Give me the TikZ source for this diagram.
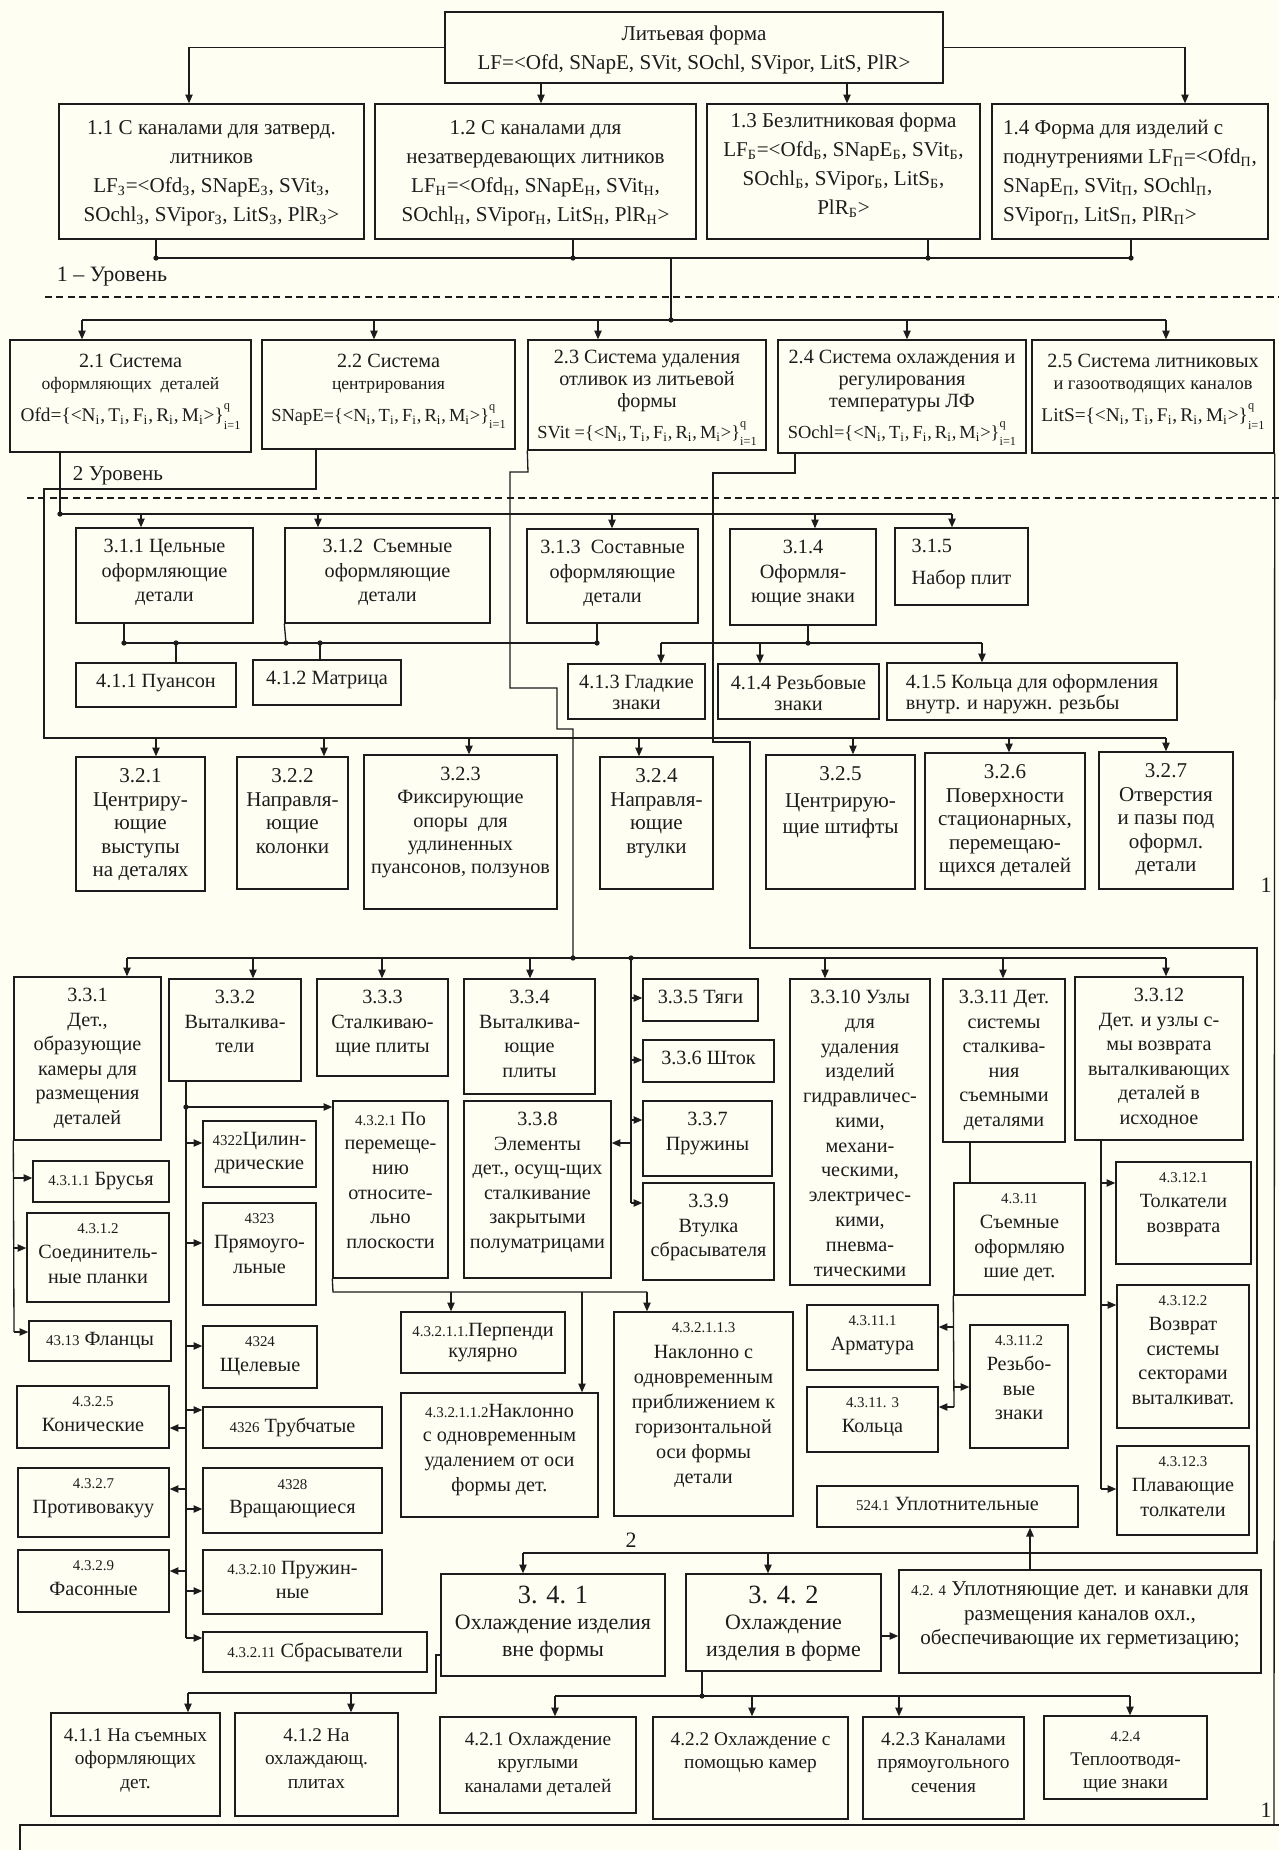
\documentclass[tikz,border=0pt]{standalone}
\usepackage{fontspec}
\setmainfont{Liberation Serif}
\usetikzlibrary{arrows.meta}
\definecolor{ink}{RGB}{28,28,28}
\definecolor{paper}{RGB}{254,254,243}
\newcommand\lsub[1]{\textsubscript{#1}}
\newcommand\qi{\rlap{\raisebox{0.6em}{\fontsize{7}{7}\selectfont q}}\raisebox{-0.4em}{\fontsize{7}{7}\selectfont i=1}}
\newcommand\nsm{\fontsize{8.5}{10}\selectfont}
\newcommand\fsm{\fontsize{11}{11}\selectfont}
\newcommand\fsn{\fontsize{10.5}{11}\selectfont}
% box from (x1,y1) to (x2,y2) in pixel units, text hung from the top edge
\newcommand\bx[7][]{%
  \pgfmathsetmacro\bxw{(#5-#3)*0.02}%
  \pgfmathsetmacro\bxh{(#6-#4)*0.02}%
  \node[box,minimum width=\bxw cm,minimum height=\bxh cm](#2)at({(#3+#5)/2},{(#4+#6)/2}){};
  \node[txt,#1](#2t)at(#2.north){#7};}

\begin{document}
\begin{tikzpicture}[x=0.02cm,y=-0.02cm,
box/.style={draw=ink,line width=.8pt,fill=paper,inner sep=0pt},
txt/.style={anchor=north,align=center,inner xsep=1pt,inner ysep=6.5pt,text=ink,font=\fontsize{11.5}{14}\selectfont},
t1/.style={inner ysep=9.5pt,font=\fontsize{12}{16.5}\selectfont},
t2/.style={inner ysep=8pt,font=\fontsize{11.5}{12.5}\selectfont},
tb/.style={inner ysep=9pt,font=\fontsize{11}{13.5}\selectfont},
t3/.style={inner ysep=7pt,font=\fontsize{12.5}{15}\selectfont},
tight/.style={font=\fontsize{11.5}{12}\selectfont},
wire/.style={draw=ink,line width=.75pt},
arr/.style={wire,-{Triangle[length=5pt,width=4.2pt]}},
dline/.style={draw=ink,line width=1.1pt,dash pattern=on 4pt off 2.5pt},
lvl/.style={text=ink,inner sep=0pt,font=\fontsize{12.5}{14}\selectfont}]

\fill[paper](0,0)rectangle(1279,1850);
\useasboundingbox(0,0)rectangle(1279,1850);

% level 0 and 1
\bx[t1,inner ysep=8pt]{lf}{445}{12}{943}{83}{Литьевая форма\\LF=<Ofd, SNapE, SVit, SOchl, SVipor, LitS, PlR>}
\bx[t1]{l11}{59}{104}{364}{239}{1.1 С каналами для затверд.\\литников\\LF\lsub{З}=<Ofd\lsub{З}, SNapE\lsub{З}, SVit\lsub{З},\\SOchl\lsub{З}, SVipor\lsub{З}, LitS\lsub{З}, PlR\lsub{З}>}
\bx[t1]{l12}{375}{104}{696}{239}{1.2 С каналами для\\незатвердевающих литников\\LF\lsub{Н}=<Ofd\lsub{Н}, SNapE\lsub{Н}, SVit\lsub{Н},\\SOchl\lsub{Н}, SVipor\lsub{Н}, LitS\lsub{Н}, PlR\lsub{Н}>}
\bx[t1,inner ysep=5pt]{l13}{707}{104}{980}{239}{1.3 Безлитниковая форма\\LF\lsub{Б}=<Ofd\lsub{Б}, SNapE\lsub{Б}, SVit\lsub{Б},\\SOchl\lsub{Б}, SVipor\lsub{Б}, LitS\lsub{Б},\\PlR\lsub{Б}>}
\bx[t1,align=left]{l14}{992}{104}{1268}{239}{1.4 Форма для изделий с\\поднутрениями LF\lsub{П}=<Ofd\lsub{П},\\SNapE\lsub{П}, SVit\lsub{П}, SOchl\lsub{П},\\SVipor\lsub{П}, LitS\lsub{П}, PlR\lsub{П}>}

\draw[arr](lf.west)-|(189,0|-l11.north);
\draw[arr](lf.east)-|(1185,0|-l14.north);
\draw[arr](541,0|-lf.south)--(541,0|-l12.north);
\draw[arr](847,0|-lf.south)--(847,0|-l13.north);

\coordinate(bus1)at(0,258);
\draw[wire](156,0|-l11.south)--(156,0|-bus1)--(1131,0|-bus1)--(1131,0|-l14.south);
\draw[wire](573,0|-l12.south)--(573,0|-bus1);
\draw[wire](928,0|-l13.south)--(928,0|-bus1);
\foreach \x in {156,573,928,1131}\fill[ink](\x,0|-bus1)circle(1.5pt);

\node[lvl](lev1)at(112,277){1 – Уровень};
\draw[dline](45,297)--(1279,297);

% level 2
\coordinate(bus2)at(0,320);
\draw[wire](671,0|-bus1)--(671,0|-bus2);
\fill[ink](671,0|-bus2)circle(1.5pt);
\draw[wire](82,0|-bus2)--(1166,0|-bus2);

\bx[t2]{l21}{10}{340}{251}{452}{2.1 Система\\{\fontsize{10}{10}\selectfont оформляющих\ \ деталей}\\[6pt]{\fsm Ofd=\{<N\lsub{i},\,T\lsub{i},\,F\lsub{i},\,R\lsub{i},\,M\lsub{i}>\}\qi}}
\bx[t2]{l22}{262}{340}{515}{449}{2.2 Система\\{\fontsize{10}{10}\selectfont центрирования}\\[6pt]{\fsn SNapE=\{<N\lsub{i},\,T\lsub{i},\,F\lsub{i},\,R\lsub{i},\,M\lsub{i}>\}\qi}}
\bx[t2,inner ysep=6pt]{l23}{528}{340}{766}{450}{2.3 Система удаления\\отливок из литьевой\\формы\\[5pt]{\fsn SVit =\{<N\lsub{i},\,T\lsub{i},\,F\lsub{i},\,R\lsub{i},\,M\lsub{i}>\}\qi}}
\bx[t2,inner ysep=6pt]{l24}{778}{340}{1026}{453}{2.4 Система охлаждения и\\регулирования\\температуры ЛФ\\[5pt]{\fsn SOchl=\{<N\lsub{i},\,T\lsub{i},\,F\lsub{i},\,R\lsub{i},\,M\lsub{i}>\}\qi}}
\bx[t2]{l25}{1032}{340}{1274}{453}{2.5 Система литниковых\\{\fontsize{10.5}{10}\selectfont и газоотводящих каналов}\\[6pt]{\fsm LitS=\{<N\lsub{i},\,T\lsub{i},\,F\lsub{i},\,R\lsub{i},\,M\lsub{i}>\}\qi}}

\foreach \x/\n in {82/l21,374/l22,598/l23,907/l24,1166/l25}\draw[arr](\x,0|-bus2)--(\x,0|-\n.north);

\node[lvl,font=\fontsize{12}{14}\selectfont](lev2)at(118,476){2 Уровень};
\draw[dline](27,498)--(1279,498);

% level 3.1 and 4.1
\bx{b311}{76}{528}{253}{623}{3.1.1 Цельные\\оформляющие\\детали}
\bx{b312}{285}{528}{490}{623}{3.1.2\ \ Съемные\\оформляющие\\детали}
\bx{b313}{527}{529}{698}{623}{3.1.3\ \ Составные\\оформляющие\\детали}
\bx{b314}{730}{529}{876}{625}{3.1.4\\Оформля-\\ющие знаки}
\bx[align=left]{b315}{895}{528}{1028}{605}{3.1.5\\[4pt]Набор плит}
\bx{b411}{76}{663}{236}{707}{4.1.1 Пуансон}
\bx{b412}{253}{660}{401}{705}{4.1.2 Матрица}
\bx[tight]{b413}{568}{664}{705}{719}{4.1.3 Гладкие\\знаки}
\bx[tight]{b414}{718}{664}{879}{719}{4.1.4 Резьбовые\\знаки}
\bx[tight,align=left]{b415}{887}{663}{1177}{720}{4.1.5 Кольца для оформления\\внутр. и наружн. резьбы}

\coordinate(bus31)at(0,514);
\draw[wire](60,0|-l21.south)--(60,0|-bus31)--(952,0|-bus31);
\fill[ink](60,0|-bus31)circle(1.5pt);
\foreach \x/\n in {141/b311,318/b312,612/b313,815/b314,952/b315}\draw[arr](\x,0|-bus31)--(\x,0|-\n.north);

\coordinate(bus41)at(0,643);
\draw[wire](124,0|-b311.south)--(124,0|-bus41)--(597,0|-bus41)--(597,0|-b313.south);
\draw[wire](b312.south west)--(286,0|-bus41);
\draw[wire](176,0|-bus41)--(176,0|-b411.north);
\draw[wire](320,0|-bus41)--(320,0|-b412.north);
\draw[wire](808,0|-b314.south)--(808,0|-bus41);
\draw[wire](661,0|-bus41)--(982,0|-bus41);
\foreach \x in {124,176,286,320,597,808}\fill[ink](\x,0|-bus41)circle(1.5pt);
\foreach \x/\n in {661/b413,760/b414,982/b415}\draw[arr](\x,0|-bus41)--(\x,0|-\n.north);

% level 3.2
\bx[inner ysep=7pt,font=\fontsize{12}{13.3}\selectfont]{b321}{76}{757}{205}{891}{3.2.1\\Центриру-\\ющие\\выступы\\на деталях}
\bx[inner ysep=7pt,font=\fontsize{12}{13.3}\selectfont]{b322}{237}{757}{348}{889}{3.2.2\\Направля-\\ющие\\колонки}
\bx[inner ysep=7pt,font=\fontsize{11.5}{13.3}\selectfont]{b323}{364}{755}{557}{909}{3.2.3\\Фиксирующие\\опоры\ \ для\\удлиненных\\пуансонов, ползунов}
\bx[inner ysep=7pt,font=\fontsize{12}{13.3}\selectfont]{b324}{600}{757}{713}{889}{3.2.4\\Направля-\\ющие\\втулки}
\bx[inner ysep=7pt,font=\fontsize{12}{15}\selectfont]{b325}{766}{755}{915}{889}{3.2.5\\Центрирую-\\щие штифты}
\bx[inner ysep=7pt,font=\fontsize{12}{13.3}\selectfont]{b326}{925}{753}{1085}{889}{3.2.6\\Поверхности\\стационарных,\\перемещаю-\\щихся деталей}
\bx[inner ysep=7pt,font=\fontsize{12}{13.3}\selectfont]{b327}{1099}{752}{1233}{889}{3.2.7\\Отверстия\\и пазы под\\оформл.\\детали}

\coordinate(bus32)at(0,738);
\draw[wire](316,0|-l22.south)--(316,489)--(44,489)--(44,0|-bus32)--(1166,0|-bus32);
\foreach \x/\n in {156/b321,324/b322,469/b323,639/b324,853/b325,1009/b326,1166/b327}\draw[arr](\x,0|-bus32)--(\x,0|-\n.north);

% level 3.3
\bx{b331}{14}{977}{161}{1140}{3.3.1\\Дет.,\\образующие\\камеры для\\размещения\\деталей}
\bx{b332}{169}{979}{301}{1081}{3.3.2\\Выталкива-\\тели}
\bx{b333}{317}{979}{448}{1076}{3.3.3\\Сталкиваю-\\щие плиты}
\bx{b334}{464}{979}{595}{1094}{3.3.4\\Выталкива-\\ющие\\плиты}
\bx{b335}{643}{979}{758}{1021}{3.3.5 Тяги}
\bx{b336}{643}{1040}{774}{1082}{3.3.6 Шток}
\bx{b337}{643}{1101}{772}{1176}{3.3.7\\Пружины}
\bx{b338}{464}{1101}{611}{1278}{3.3.8\\Элементы\\дет., осущ-щих\\сталкивание\\закрытыми\\полуматрицами}
\bx{b339}{643}{1183}{774}{1280}{3.3.9\\Втулка\\сбрасывателя}
\bx[font=\fontsize{11.5}{14.1}\selectfont]{b3310}{790}{979}{930}{1285}{3.3.10 Узлы\\для\\удаления\\изделий\\гидравличес-\\кими,\\механи-\\ческими,\\электричес-\\кими,\\пневма-\\тическими}
\bx{b3311}{943}{979}{1065}{1142}{3.3.11 Дет.\\системы\\сталкива-\\ния\\съемными\\деталями}
\bx{b3312}{1075}{977}{1243}{1140}{3.3.12\\Дет. и узлы с-\\мы возврата\\выталкивающих\\деталей в\\исходное}

\coordinate(bus33)at(0,958);
\draw[wire](l23.south west)--(528,472)--(510,472)--(510,688)--(557,688)--(557,729)--(573,729)--(573,0|-bus33);
\draw[wire](127,0|-bus33)--(1166,0|-bus33);
\foreach \x in {573,631}\fill[ink](\x,0|-bus33)circle(1.5pt);
\foreach \x/\n in {127/b331,253/b332,382/b333,530/b334,825/b3310,1003/b3311,1166/b3312}\draw[arr](\x,0|-bus33)--(\x,0|-\n.north);

% level 4.3
\bx{b4311}{33}{1161}{169}{1202}{{\nsm 4.3.1.1} Брусья}
\bx{b4312}{27}{1213}{169}{1302}{{\nsm 4.3.1.2}\\Соединитель-\\ные планки}
\bx{b4313}{29}{1321}{171}{1361}{{\nsm 43.13} Фланцы}
\bx{b4321}{333}{1101}{448}{1278}{{\nsm 4.3.2.1} По\\перемеще-\\нию\\относите-\\льно\\плоскости}
\bx{b4322}{203}{1121}{316}{1187}{{\nsm 4322}Цилин-\\дрические}
\bx{b4323}{203}{1203}{316}{1305}{{\nsm 4323}\\Прямоуго-\\льные}
\bx{b4324}{203}{1326}{317}{1388}{{\nsm 4324}\\Щелевые}
\bx{b4325}{17}{1386}{169}{1448}{{\nsm 4.3.2.5}\\Конические}
\bx{b4326}{203}{1407}{382}{1448}{{\nsm 4326} Трубчатые}
\bx{b4327}{18}{1468}{169}{1537}{{\nsm 4.3.2.7}\\Противовакуу}
\bx{b4328}{203}{1468}{382}{1533}{{\nsm 4328}\\Вращающиеся}
\bx{b4329}{18}{1550}{169}{1612}{{\nsm 4.3.2.9}\\Фасонные}
\bx{b43210}{203}{1550}{382}{1614}{{\nsm 4.3.2.10} Пружин-\\ные}
\bx{b43211}{203}{1632}{427}{1672}{{\nsm 4.3.2.11} Сбрасыватели}
\bx[tight]{b432111}{401}{1312}{565}{1373}{{\nsm 4.3.2.1.1.}Перпенди\\кулярно}
\bx{b432112}{401}{1393}{598}{1517}{{\nsm 4.3.2.1.1.2}Наклонно\\с одновременным\\удалением от оси\\формы дет.}
\bx[font=\fontsize{11.5}{14.3}\selectfont]{b432113}{614}{1312}{793}{1516}{{\nsm 4.3.2.1.1.3}\\Наклонно с\\одновременным\\приближением к\\горизонтальной\\оси формы\\детали}
\bx{b4311n}{954}{1183}{1085}{1295}{{\nsm 4.3.11}\\Съемные\\оформляю\\шие дет.}
\bx{b43111}{807}{1305}{938}{1370}{{\nsm 4.3.11.1}\\Арматура}
\bx{b43112}{970}{1325}{1068}{1448}{{\nsm 4.3.11.2}\\Резьбо-\\вые\\знаки}
\bx{b43113}{807}{1387}{938}{1452}{{\nsm 4.3.11. 3}\\Кольца}
\bx{b43121}{1116}{1162}{1251}{1264}{{\nsm 4.3.12.1}\\Толкатели\\возврата}
\bx{b43122}{1117}{1285}{1249}{1428}{{\nsm 4.3.12.2}\\Возврат\\системы\\секторами\\выталкиват.}
\bx{b43123}{1117}{1446}{1249}{1535}{{\nsm 4.3.12.3}\\Плавающие\\толкатели}
\bx{b5241}{817}{1486}{1078}{1527}{{\nsm 524.1} Уплотнительные}

\draw[wire](631,0|-bus33)--(631,1203);
\foreach \y/\n in {998/b335,1060/b336,1120/b337,1203/b339}\draw[arr](631,\y)--(\n.west|-0,\y);
\draw[arr](631,1143)--(b338.east|-0,1143);

\draw[wire](b331.south west)--(14,1332);
\foreach \y/\n in {1178/b4311,1248/b4312,1332/b4313}\draw[arr](14,\y)--(\n.west|-0,\y);

\draw[wire](186,0|-b332.south)--(186,1638);
\fill[ink](186,1107)circle(1.5pt);
\foreach \y/\n in {1107/b4321,1143/b4322,1243/b4323,1346/b4324,1410/b4326,1509/b4328,1591/b43210,1638/b43211}\draw[arr](186,\y)--(\n.west|-0,\y);
\foreach \y/\n in {1428/b4325,1489/b4327,1571/b4329}\draw[arr](186,\y)--(\n.east|-0,\y);

\coordinate(bus4321)at(0,1292);
\draw[wire](b4321.south west)--(333,0|-bus4321)--(647,0|-bus4321);
\foreach \x/\n in {451/b432111,582/b432112,647/b432113}\draw[arr](\x,0|-bus4321)--(\x,0|-\n.north);

\draw[wire](970,0|-b3311.south)--(970,0|-b4311n.north);
\draw[wire](b4311n.south west)--(954,1407);
\draw[arr](954,1327)--(b43111.east|-0,1327);
\draw[arr](954,1387)--(b43112.west|-0,1387);
\draw[arr](954,1407)--(b43113.east|-0,1407);

\draw[wire](1101,0|-b3312.south)--(1101,1489);
\foreach \y/\n in {1183/b43121,1305/b43122,1489/b43123}\draw[arr](1101,\y)--(\n.west|-0,\y);

% level 3.4
\bx[t3]{b341}{441}{1574}{665}{1676}{{\fontsize{15}{15}\selectfont 3. 4. 1}\\Охлаждение изделия\\вне формы}
\bx[t3]{b342}{686}{1574}{881}{1671}{{\fontsize{15}{15}\selectfont 3. 4. 2}\\Охлаждение\\изделия в форме}
\bx[inner ysep=7pt,font=\fontsize{12}{13.8}\selectfont]{b424u}{899}{1570}{1261}{1673}{{\nsm 4.2. 4} Уплотняющие дет. и канавки для\\размещения каналов охл.,\\обеспечивающие их герметизацию;}
\bx[tb]{b411b}{51}{1713}{220}{1816}{4.1.1 На съемных\\оформляющих\\дет.}
\bx[tb]{b412b}{235}{1713}{398}{1816}{4.1.2 На\\охлаждающ.\\плитах}
\bx[tb]{b421}{440}{1717}{636}{1813}{4.2.1 Охлаждение\\круглыми\\каналами деталей}
\bx[tb]{b422}{653}{1717}{848}{1819}{4.2.2 Охлаждение с\\помощью камер}
\bx[tb]{b423}{863}{1717}{1024}{1819}{4.2.3 Каналами\\прямоугольного\\сечения}
\bx[tb]{b424b}{1044}{1716}{1207}{1799}{{\nsm 4.2.4}\\Теплоотводя-\\щие знаки}

\coordinate(bus34)at(0,1553);
\draw[wire](795,0|-l24.south)--(795,473)--(713,473)--(713,742)--(750,742)--(750,948)--(1257,948)--(1257,0|-bus34)--(523,0|-bus34);
\draw[arr](523,0|-bus34)--(523,0|-b341.north);
\draw[arr](768,0|-bus34)--(768,0|-b342.north);
\draw[wire](l25.south east)--(1274,1825);
\draw[wire](20,1850)--(20,1825)--(1279,1825);

\draw[arr](1030,0|-b424u.north)--(1030,0|-b5241.south);
\draw[arr](b342.east|-0,1636)--(b424u.west|-0,1636);

\coordinate(bus41b)at(0,1693);
\draw[wire](b341.west|-0,1655)--(436,1655)--(436,0|-bus41b)--(188,0|-bus41b);
\draw[arr](188,0|-bus41b)--(188,0|-b411b.north);
\draw[arr](351,0|-bus41b)--(351,0|-b412b.north);

\coordinate(bus42)at(0,1696);
\draw[wire](702,0|-b342.south)--(702,0|-bus42);
\fill[ink](702,0|-bus42)circle(1.5pt);
\draw[wire](555,0|-bus42)--(1130,0|-bus42);
\foreach \x/\n in {555/b421,752/b422,899/b423,1130/b424b}\draw[arr](\x,0|-bus42)--(\x,0|-\n.north);

\node[lvl](n2)at(631,1540){2};
\node[lvl](n1a)at(1266,885){1};
\node[lvl](n1b)at(1266,1810){1};
\end{tikzpicture}
\end{document}
